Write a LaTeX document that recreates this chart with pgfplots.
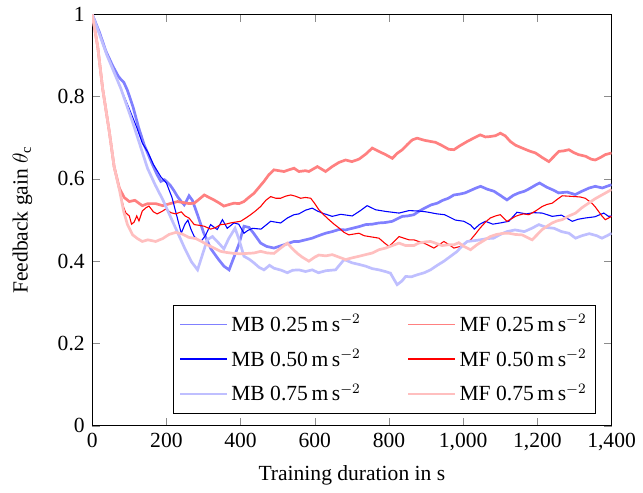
\documentclass[border={3pt 0pt 0pt 0pt}]{standalone}
\usepackage{pgfplots}
\pgfplotsset{compat=1.18}
\usepackage{fontspec}
\setmainfont{Liberation Serif}
\begin{document}
\fontsize{12}{14.5}\selectfont
\begin{tikzpicture}
\begin{axis}[
  scale only axis,
  width=289pt, height=229pt,
  xmin=0, xmax=1400, ymin=0, ymax=1,
  xtick distance=200, ytick distance=0.2,
  tick style={black!45},
  axis line style={black},
  /pgf/number format/assume math mode=true,
  /pgf/number format/1000 sep={,},
  xlabel={Training duration in s},
  ylabel={Feedback gain $\theta_\mathrm{c}$},
  ylabel shift=6pt,
  legend pos=south east,
  legend columns=2,
  legend cell align=left,
  legend style={/tikz/every even column/.append style={column sep=24pt}, inner xsep=3pt, inner ysep=3pt, row sep=4pt},
  legend image code/.code={\draw[#1, line width=1pt] (0pt,0pt) -- (26pt,0pt);},
]
% MB 0.25
\addplot[blue!50, line width=1.5pt] coordinates {
(0,1) (20,0.955) (37,0.91) (55,0.875) (70,0.85) (77,0.842) (85,0.835) (95,0.815) (110,0.775) (125,0.725) (140,0.683) (160,0.64) (175,0.61) (185,0.594) (195,0.598) (210,0.585) (220,0.572) (230,0.557) (240,0.545) (248,0.537) (255,0.548) (261,0.559) (270,0.548) (285,0.51) (300,0.47) (320,0.43) (340,0.405) (355,0.388) (369,0.379) (380,0.405) (395,0.44) (409,0.485) (423,0.482) (435,0.468) (454,0.444) (470,0.436) (490,0.432) (517,0.44) (544,0.448) (557,0.448) (575,0.452) (593,0.456) (610,0.462) (629,0.468) (647,0.472) (665,0.477) (683,0.476) (701,0.48) (719,0.484) (737,0.489) (755,0.49) (773,0.493) (790,0.494) (809,0.497) (822,0.503) (836,0.509) (850,0.51) (867,0.513) (882,0.522) (898,0.53) (914,0.537) (930,0.541) (945,0.548) (960,0.553) (975,0.561) (990,0.563) (1005,0.566) (1020,0.572) (1035,0.578) (1047,0.582) (1065,0.575) (1083,0.57) (1100,0.56) (1118,0.549) (1135,0.56) (1150,0.566) (1165,0.57) (1180,0.577) (1195,0.585) (1206,0.59) (1225,0.58) (1245,0.572) (1257,0.566) (1280,0.568) (1302,0.562) (1320,0.57) (1340,0.578) (1356,0.582) (1375,0.578) (1400,0.586)
};
\addlegendentry{MB 0.25\,m\,s$^{-2}$}
% MF 0.25
\addplot[red!50, line width=1.5pt] coordinates {
(0,1) (15,0.92) (28,0.82) (46,0.715) (59,0.63) (73,0.578) (86,0.555) (100,0.545) (115,0.548) (135,0.535) (150,0.54) (171,0.54) (190,0.535) (210,0.54) (230,0.545) (261,0.54) (275,0.541) (290,0.552) (302,0.561) (315,0.555) (328,0.549) (345,0.54) (355,0.534) (370,0.538) (382,0.541) (396,0.54) (409,0.545) (422,0.555) (436,0.565) (450,0.58) (463,0.594) (476,0.61) (490,0.622) (503,0.62) (517,0.618) (530,0.622) (544,0.626) (557,0.618) (575,0.62) (584,0.618) (607,0.63) (629,0.618) (647,0.63) (665,0.64) (683,0.646) (700,0.642) (719,0.648) (737,0.66) (755,0.675) (770,0.668) (791,0.659) (809,0.65) (822,0.662) (836,0.671) (850,0.684) (863,0.695) (876,0.699) (895,0.694) (912,0.691) (925,0.689) (939,0.683) (961,0.672) (975,0.671) (990,0.68) (1011,0.691) (1030,0.7) (1046,0.707) (1060,0.702) (1073,0.703) (1087,0.705) (1100,0.711) (1113,0.705) (1127,0.691) (1141,0.682) (1159,0.675) (1178,0.668) (1195,0.663) (1213,0.652) (1231,0.642) (1245,0.655) (1258,0.667) (1270,0.668) (1285,0.671) (1298,0.664) (1311,0.659) (1330,0.655) (1345,0.648) (1356,0.646) (1370,0.652) (1383,0.659) (1400,0.663)
};
\addlegendentry{MF 0.25\,m\,s$^{-2}$}
% MB 0.50
\addplot[blue, line width=0.6pt] coordinates {
(0,1) (40,0.9) (77,0.82) (100,0.77) (120,0.725) (135,0.687) (150,0.665) (165,0.635) (185,0.605) (200,0.59) (215,0.555) (228,0.51) (240,0.468) (250,0.49) (258,0.5) (266,0.478) (275,0.46) (285,0.452) (293,0.448) (305,0.462) (319,0.489) (337,0.477) (351,0.501) (364,0.48) (382,0.493) (395,0.49) (409,0.468) (420,0.475) (432,0.48) (455,0.478) (481,0.497) (508,0.493) (526,0.505) (544,0.513) (557,0.515) (575,0.524) (593,0.529) (607,0.522) (620,0.517) (647,0.509) (670,0.514) (701,0.51) (723,0.523) (741,0.535) (764,0.525) (791,0.521) (827,0.517) (854,0.523) (880,0.522) (900,0.52) (930,0.515) (950,0.513) (979,0.5) (1002,0.497) (1020,0.488) (1030,0.478) (1045,0.49) (1060,0.497) (1080,0.49) (1100,0.493) (1123,0.497) (1145,0.519) (1170,0.515) (1190,0.518) (1213,0.517) (1240,0.509) (1265,0.512) (1294,0.497) (1310,0.502) (1329,0.505) (1355,0.508) (1379,0.517) (1392,0.509) (1400,0.51)
};
\addlegendentry{MB 0.50\,m\,s$^{-2}$}
% MF 0.50
\addplot[red, line width=0.6pt] coordinates {
(0,1) (15,0.92) (28,0.82) (46,0.715) (59,0.63) (73,0.575) (85,0.53) (91,0.517) (100,0.51) (106,0.49) (113,0.495) (120,0.51) (126,0.498) (135,0.522) (145,0.53) (153,0.534) (165,0.52) (175,0.515) (190,0.522) (198,0.527) (212,0.518) (225,0.515) (240,0.52) (250,0.51) (261,0.505) (275,0.489) (290,0.487) (302,0.485) (319,0.478) (333,0.482) (346,0.489) (360,0.49) (373,0.493) (386,0.495) (400,0.497) (414,0.505) (427,0.513) (440,0.522) (454,0.533) (468,0.548) (481,0.557) (495,0.553) (508,0.553) (521,0.558) (535,0.561) (548,0.558) (562,0.553) (575,0.555) (589,0.553) (600,0.54) (611,0.525) (625,0.512) (638,0.501) (652,0.49) (665,0.481) (679,0.47) (692,0.464) (705,0.466) (719,0.468) (733,0.462) (746,0.46) (760,0.458) (773,0.456) (787,0.445) (800,0.436) (814,0.448) (827,0.46) (840,0.456) (854,0.452) (867,0.452) (880,0.448) (894,0.444) (908,0.438) (921,0.432) (935,0.44) (948,0.448) (962,0.44) (975,0.432) (993,0.436) (1007,0.444) (1020,0.452) (1033,0.466) (1046,0.481) (1060,0.495) (1073,0.505) (1087,0.51) (1100,0.513) (1109,0.505) (1118,0.497) (1130,0.503) (1141,0.509) (1150,0.512) (1163,0.515) (1177,0.513) (1195,0.522) (1213,0.533) (1226,0.538) (1240,0.541) (1253,0.55) (1267,0.559) (1285,0.558) (1303,0.557) (1316,0.556) (1329,0.553) (1347,0.541) (1356,0.532) (1365,0.521) (1374,0.51) (1383,0.501) (1392,0.505) (1400,0.509)
};
\addlegendentry{MF 0.50\,m\,s$^{-2}$}
% MB 0.75
\addplot[blue!25, line width=1.5pt] coordinates {
(0,1) (40,0.9) (77,0.82) (110,0.735) (149,0.626) (170,0.585) (190,0.55) (210,0.51) (230,0.47) (250,0.43) (268,0.398) (284,0.379) (295,0.41) (310,0.452) (324,0.46) (340,0.445) (355,0.43) (368,0.455) (385,0.48) (395,0.455) (409,0.412) (423,0.405) (436,0.396) (450,0.385) (463,0.379) (478,0.39) (490,0.383) (510,0.378) (526,0.372) (540,0.378) (557,0.379) (575,0.375) (593,0.379) (610,0.372) (630,0.377) (656,0.379) (668,0.392) (679,0.404) (701,0.396) (720,0.392) (737,0.388) (755,0.382) (773,0.379) (790,0.375) (804,0.371) (814,0.355) (822,0.343) (835,0.352) (845,0.363) (860,0.362) (876,0.367) (895,0.372) (912,0.379) (930,0.39) (948,0.4) (966,0.412) (984,0.424) (1000,0.44) (1011,0.448) (1030,0.45) (1046,0.452) (1064,0.455) (1082,0.456) (1100,0.465) (1118,0.472) (1140,0.476) (1165,0.472) (1185,0.48) (1204,0.489) (1225,0.482) (1245,0.48) (1265,0.472) (1285,0.468) (1303,0.456) (1320,0.462) (1340,0.467) (1360,0.462) (1374,0.456) (1388,0.462) (1400,0.468)
};
\addlegendentry{MB 0.75\,m\,s$^{-2}$}
% MF 0.75
\addplot[red!25, line width=1.5pt] coordinates {
(0,1) (15,0.92) (28,0.82) (46,0.715) (59,0.63) (73,0.575) (85,0.52) (95,0.489) (109,0.464) (122,0.455) (135,0.448) (150,0.452) (171,0.448) (190,0.455) (207,0.465) (225,0.47) (243,0.466) (260,0.458) (279,0.455) (295,0.448) (310,0.44) (328,0.432) (346,0.424) (364,0.421) (382,0.419) (400,0.418) (418,0.419) (436,0.42) (454,0.424) (472,0.42) (490,0.419) (508,0.432) (526,0.444) (540,0.43) (553,0.419) (566,0.41) (584,0.4) (600,0.41) (611,0.415) (630,0.413) (647,0.416) (665,0.41) (683,0.404) (700,0.408) (719,0.412) (737,0.416) (755,0.42) (773,0.428) (791,0.432) (809,0.438) (827,0.444) (845,0.438) (867,0.438) (880,0.444) (898,0.447) (912,0.448) (925,0.444) (943,0.438) (960,0.44) (975,0.44) (988,0.445) (1002,0.436) (1020,0.428) (1037,0.44) (1055,0.45) (1073,0.46) (1090,0.465) (1109,0.468) (1123,0.468) (1141,0.465) (1159,0.464) (1172,0.458) (1186,0.452) (1200,0.465) (1213,0.477) (1226,0.485) (1240,0.493) (1253,0.498) (1267,0.501) (1285,0.51) (1303,0.517) (1320,0.53) (1338,0.541) (1356,0.552) (1374,0.561) (1388,0.568) (1400,0.574)
};
\addlegendentry{MF 0.75\,m\,s$^{-2}$}
\end{axis}
\end{tikzpicture}
\end{document}
